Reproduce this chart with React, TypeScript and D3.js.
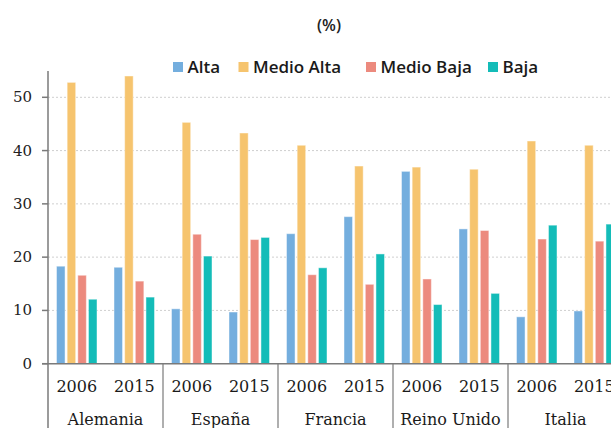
import { useEffect, useRef } from 'react';
import * as d3 from 'd3';

const countries = ['Alemania', 'España', 'Francia', 'Reino Unido', 'Italia'];
const years = ['2006', '2015'];
const series = ['Alta', 'Medio Alta', 'Medio Baja', 'Baja'];
const colors = ['#74aede', '#f6c46e', '#ec8a7e', '#14bcb8'];
const yTicks = [0, 10, 20, 30, 40, 50];

// values per country, per year: [Alta, Medio Alta, Medio Baja, Baja]
const alemania = [[18.3, 52.8, 16.6, 12.1], [18.1, 54.0, 15.5, 12.5]];
const espana = [[10.3, 45.3, 24.3, 20.2], [9.7, 43.3, 23.3, 23.7]];
const francia = [[24.4, 41.0, 16.7, 18.0], [27.6, 37.1, 14.9, 20.6]];
const reinoUnido = [[36.1, 36.9, 15.9, 11.1], [25.3, 36.5, 25.0, 13.2]];
const italia = [[8.8, 41.8, 23.4, 26.0], [9.9, 41.0, 23.0, 26.2]];

const values = [alemania, espana, francia, reinoUnido, italia];

export default function App() {
  const svgRef = useRef<SVGSVGElement>(null);

  useEffect(() => {
    if (!svgRef.current) return;

    const width = 611;
    const height = 428;
    const left = 48;
    const groupW = 115;
    const axisY = 363.7;

    const svg = d3.select(svgRef.current);
    svg.selectAll('*').remove();
    svg.attr('width', width).attr('height', height);

    const y = d3.scaleLinear().domain([0, 50]).range([axisY, 97.3]);
    const x0 = d3
      .scaleBand()
      .domain(countries)
      .range([left, left + groupW * countries.length]);
    const x1 = d3.scaleBand().domain(years).range([0, x0.bandwidth()]);
    const x2 = d3
      .scaleBand()
      .domain(series)
      .range([8.5, x1.bandwidth() - 8.5])
      .paddingInner(0.2);

    // "(%)" subtitle
    svg
      .append('text')
      .attr('x', 329)
      .attr('y', 31)
      .attr('text-anchor', 'middle')
      .style('font-family', '"Open Sans", sans-serif')
      .style('font-size', '16px')
      .style('font-weight', 600)
      .style('fill', '#222')
      .text('(%)');

    // legend
    const legendX = [173, 238.5, 366, 488];
    const legend = svg
      .selectAll('g.legend')
      .data(series)
      .join('g')
      .attr('class', 'legend')
      .attr('transform', (d, i) => `translate(${legendX[i]},62)`);
    legend
      .append('rect')
      .attr('width', 10)
      .attr('height', 10)
      .attr('fill', (d, i) => colors[i]);
    legend
      .append('text')
      .attr('x', 14.5)
      .attr('y', 11)
      .style('font-family', '"Open Sans", sans-serif')
      .style('font-size', '17px')
      .style('font-weight', 600)
      .style('fill', '#1a1a1a')
      .text((d) => d);

    // gridlines
    svg
      .selectAll('line.grid')
      .data(yTicks.filter((t) => t > 0))
      .join('line')
      .attr('class', 'grid')
      .attr('x1', left)
      .attr('x2', width)
      .attr('y1', (d) => y(d))
      .attr('y2', (d) => y(d))
      .attr('stroke', '#cfcfcf')
      .attr('stroke-dasharray', '2,2');

    // bars
    countries.forEach((c, ci) => {
      years.forEach((yr, yi) => {
        const gx = (x0(c) ?? 0) + (x1(yr) ?? 0);
        svg
          .append('g')
          .selectAll('rect')
          .data(values[ci][yi])
          .join('rect')
          .attr('x', (d, i) => gx + (x2(series[i]) ?? 0))
          .attr('y', (d) => y(d))
          .attr('width', x2.bandwidth())
          .attr('height', (d) => axisY - y(d))
          .attr('fill', (d, i) => colors[i])
          .attr('stroke', 'rgba(255,255,255,0.45)')
          .attr('stroke-width', 1);
      });
    });

    // y axis
    svg
      .append('line')
      .attr('x1', left)
      .attr('x2', left)
      .attr('y1', 71)
      .attr('y2', height)
      .attr('stroke', '#7a7a7a')
      .attr('stroke-width', 1.5);
    svg
      .selectAll('line.ytick')
      .data(yTicks)
      .join('line')
      .attr('class', 'ytick')
      .attr('x1', left - 6)
      .attr('x2', left)
      .attr('y1', (d) => y(d))
      .attr('y2', (d) => y(d))
      .attr('stroke', '#7a7a7a')
      .attr('stroke-width', 1.5);
    svg
      .selectAll('text.ylab')
      .data(yTicks)
      .join('text')
      .attr('class', 'ylab')
      .attr('x', 32)
      .attr('y', (d) => y(d) + 5)
      .attr('text-anchor', 'end')
      .style('font-family', '"DejaVu Serif", serif')
      .style('font-size', '15px')
      .style('fill', '#222')
      .text((d) => d);

    // x axis
    svg
      .append('line')
      .attr('x1', 42)
      .attr('x2', width)
      .attr('y1', axisY)
      .attr('y2', axisY)
      .attr('stroke', '#7a7a7a')
      .attr('stroke-width', 1.5);

    // group separators
    svg
      .selectAll('line.sep')
      .data(countries.slice(1))
      .join('line')
      .attr('class', 'sep')
      .attr('x1', (d) => x0(d) ?? 0)
      .attr('x2', (d) => x0(d) ?? 0)
      .attr('y1', axisY)
      .attr('y2', height)
      .attr('stroke', '#7a7a7a')
      .attr('stroke-width', 1.2);

    // year labels
    countries.forEach((c) => {
      svg
        .append('g')
        .selectAll('text')
        .data(years)
        .join('text')
        .attr('x', (d) => (x0(c) ?? 0) + (x1(d) ?? 0) + x1.bandwidth() / 2)
        .attr('y', 392)
        .attr('text-anchor', 'middle')
        .style('font-family', '"DejaVu Serif", serif')
        .style('font-size', '16px')
        .style('fill', '#1a1a1a')
        .text((d) => d);
    });

    // country labels
    svg
      .selectAll('text.country')
      .data(countries)
      .join('text')
      .attr('class', 'country')
      .attr('x', (d) => (x0(d) ?? 0) + x0.bandwidth() / 2)
      .attr('y', 425)
      .attr('text-anchor', 'middle')
      .style('font-family', '"DejaVu Serif", serif')
      .style('font-size', '16px')
      .style('fill', '#1a1a1a')
      .text((d) => d);
  }, []);

  return (
    <div style={{ position: 'fixed', top: 0, left: 0, background: '#fff' }}>
      <svg ref={svgRef} style={{ display: 'block' }} />
    </div>
  );
}
